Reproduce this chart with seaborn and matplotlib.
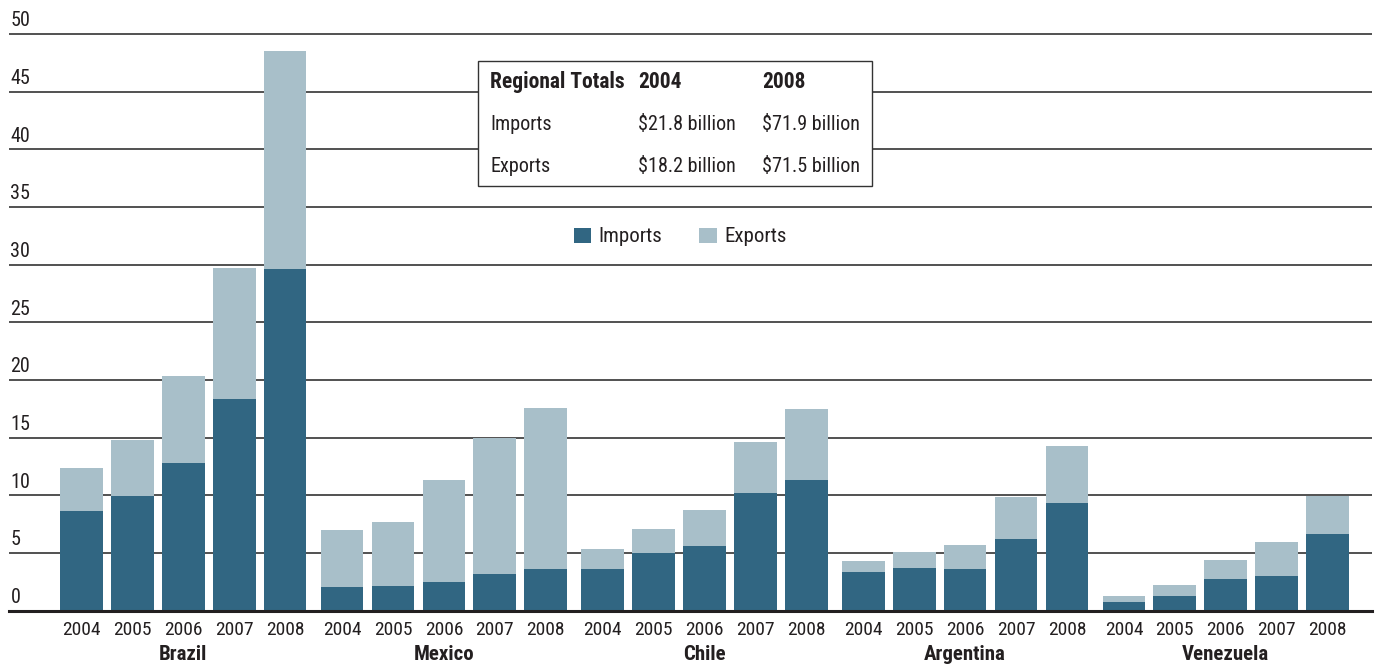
import numpy as np
import matplotlib
matplotlib.use("Agg")
import matplotlib.pyplot as plt
import seaborn as sns
from matplotlib import font_manager
from matplotlib.patches import Rectangle, Patch

# ---------------- data ----------------
countries = ["Brazil", "Mexico", "Chile", "Argentina", "Venezuela"]
years = ["2004", "2005", "2006", "2007", "2008"]
imports = [8.6, 9.9, 12.8, 18.3, 29.6,
           2.0, 2.1, 2.5, 3.2, 3.6,
           3.6, 5.0, 5.6, 10.2, 11.3,
           3.3, 3.7, 3.6, 6.2, 9.3,
           0.7, 1.3, 2.7, 3.0, 6.6]
exports = [3.8, 4.9, 7.5, 11.4, 18.9,
           5.0, 5.6, 8.8, 11.8, 14.0,
           1.7, 2.1, 3.1, 4.4, 6.2,
           1.0, 1.4, 2.1, 3.6, 5.0,
           0.6, 0.9, 1.7, 2.9, 3.3]
y_ticks = [0, 5, 10, 15, 20, 25, 30, 35, 40, 45, 50]
table_header = ["Regional Totals", "2004", "2008"]
table_rows = [["Imports", "$21.8 billion", "$71.9 billion"],
              ["Exports", "$18.2 billion", "$71.5 billion"]]

# ---------------- style ----------------
sns.set_style("white")
avail = {f.name for f in font_manager.fontManager.ttflist}
family = "Liberation Sans"
for cand in ["Nimbus Sans Narrow", "Liberation Sans Narrow", "Arial Narrow",
             "Roboto Condensed", "Archivo Narrow", "PT Sans Narrow",
             "Open Sans Condensed", "Asap Condensed"]:
    if cand in avail:
        family = cand
        break
plt.rcParams["font.family"] = [family, "DejaVu Sans"]

C_IMP = "#316682"
C_EXP = "#a8bfc9"
TXT = "#231f20"
GRID = "#333333"

fig = plt.figure(figsize=(13.77, 6.65), dpi=100)
W, H = 1377, 665
ax_top_px, ax_bot_px = 30.5, 610.5
ax = fig.add_axes([9 / W, (H - ax_bot_px) / H, (1372 - 9) / W, (ax_bot_px - ax_top_px) / H])

group_gap = 5.12
pos = []
for g in range(len(countries)):
    for i in range(len(years)):
        pos.append(g * group_gap + i)
pos = np.array(pos)
imp = np.array(imports)
exp_ = np.array(exports)
tot = imp + exp_

sns.barplot(x=pos, y=tot, native_scale=True, color=C_EXP, saturation=1,
            width=0.84, errorbar=None, edgecolor="none", linewidth=0, ax=ax, zorder=3)
sns.barplot(x=pos, y=imp, native_scale=True, color=C_IMP, saturation=1,
            width=0.84, errorbar=None, edgecolor="none", linewidth=0, ax=ax, zorder=3)

ax.set_ylim(0, 50.3)
ax.set_xlim(pos[0] - 1.424, pos[-1] + 0.874)

# gridlines
for v in y_ticks[1:]:
    ax.axhline(v, color=GRID, lw=1.2, zorder=1)
for s in ["top", "right", "left"]:
    ax.spines[s].set_visible(False)
ax.spines["bottom"].set_color(TXT)
ax.spines["bottom"].set_linewidth(2.2)
ax.spines["bottom"].set_zorder(4)

ax.set_yticks([])
ax.set_ylabel("")
ax.set_xlabel("")
for v in y_ticks:
    ax.annotate(str(v), xy=(0, v), xycoords=("axes fraction", "data"),
                xytext=(1, 5.5), textcoords="offset points",
                ha="left", va="baseline", fontsize=14.5, color=TXT)

ax.set_xticks(pos)
ax.set_xticklabels(years * len(countries), fontsize=14, color=TXT)
ax.tick_params(axis="x", length=0, pad=7.5)

for g, c in enumerate(countries):
    cx = g * group_gap + 2
    ax.annotate(c, xy=(cx, 0), xycoords=("data", "axes fraction"),
                xytext=(0, -31.5), textcoords="offset points",
                ha="center", va="center", fontsize=15, fontweight="bold", color=TXT)

# summary table box
bx0, bx1, by0, by1 = 478, 872, 61, 186
fig.add_artist(Rectangle((bx0 / W, 1 - by1 / H), (bx1 - bx0) / W, (by1 - by0) / H,
                         transform=fig.transFigure, facecolor="white",
                         edgecolor="#333333", lw=1.0, zorder=5))
col_x = [490, 638, 762]
row_y = [82, 124, 167]
for j, t in enumerate(table_header):
    fig.text(col_x[j] / W, 1 - row_y[0] / H, t, ha="left", va="center",
             fontsize=15.5, fontweight="bold", color=TXT, zorder=6)
for r, row in enumerate(table_rows):
    for j, t in enumerate(row):
        fig.text(col_x[j] / W, 1 - row_y[r + 1] / H, t, ha="left", va="center",
                 fontsize=14.5, color=TXT, zorder=6)

# legend
handles = [Patch(facecolor=C_IMP, edgecolor="none", label="Imports"),
           Patch(facecolor=C_EXP, edgecolor="none", label="Exports")]
leg = fig.legend(handles=handles, ncol=2, frameon=False, loc="center",
                 bbox_to_anchor=(680 / W, 1 - 237 / H), fontsize=15,
                 handlelength=0.85, handleheight=0.75, handletextpad=0.35,
                 columnspacing=1.75, borderpad=0)
for t in leg.get_texts():
    t.set_color(TXT)

fig.savefig("out.png", dpi=100)
